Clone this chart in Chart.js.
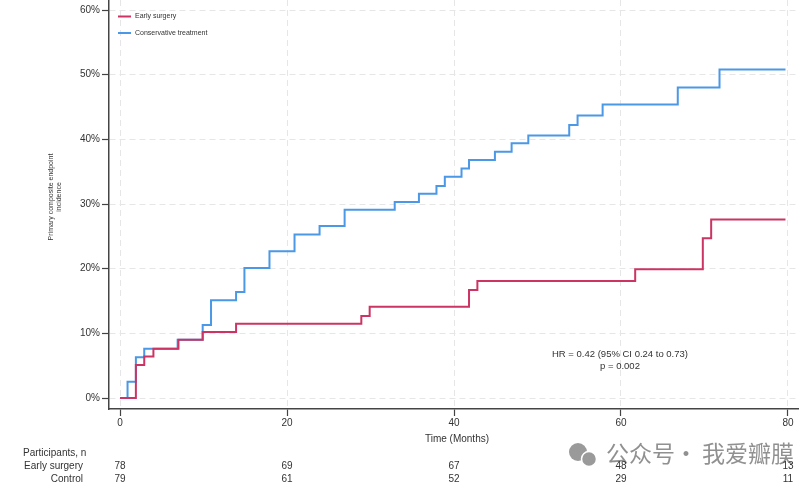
<!DOCTYPE html>
<html>
<head>
<meta charset="utf-8">
<script src="https://cdn.jsdelivr.net/npm/chart.js@4/dist/chart.umd.min.js"></script>
<style>
  html, body { margin: 0; padding: 0; background: #fff; }
  #wrap { width: 812px; height: 487px; position: relative; }
</style>
</head>
<body>
<div id="wrap"><canvas id="chart"></canvas></div>
<script>
// Kaplan-Meier cumulative incidence (%)
var earlyTimes = [0, 1.9, 2.9, 4.0, 7.0, 9.9, 13.9, 28.9, 29.9, 41.8, 42.8, 61.7, 69.8, 70.8, 79.7];
var earlyRisk  = [0, 5.1, 6.4, 7.6, 9.0, 10.2, 11.5, 12.7, 14.1, 16.7, 18.1, 19.9, 24.7, 27.6, 27.6];

var consTimes = [0, 0.9, 1.9, 2.9, 6.9, 9.9, 10.9, 13.9, 14.9, 17.9, 20.9, 23.9, 26.9, 32.9, 35.8,
                 37.9, 38.9, 40.9, 41.8, 44.9, 46.9, 48.9, 53.8, 54.8, 57.8, 66.8, 71.8, 79.7];
var consRisk  = [0, 2.5, 6.3, 7.6, 9.0, 11.3, 15.1, 16.4, 20.1, 22.7, 25.3, 26.6, 29.1, 30.3, 31.6,
                 32.8, 34.2, 35.5, 36.8, 38.1, 39.4, 40.6, 42.2, 43.7, 45.4, 48.0, 50.8, 50.8];

var xTicks = [0, 20, 40, 60, 80];
var yTicks = [0, 10, 20, 30, 40, 50, 60];

// numbers at risk
var riskRowLabels = ['Early surgery', 'Control'];
var riskEarly = [78, 69, 67, 48, 13];
var riskControl = [79, 61, 52, 29, 11];

var hrText = ['HR = 0.42 (95% CI 0.24 to 0.73)', 'p = 0.002'];

var RED = '#cc3463';
var BLUE = '#4a98e6';
var FONT = '"Liberation Sans", Arial, sans-serif';

function toPoints(xs, ys) {
  var pts = [];
  for (var i = 0; i < xs.length; i++) pts.push({ x: xs[i], y: ys[i] });
  return pts;
}

var extras = {
  id: 'extras',
  afterDraw: function (chart) {
    var ctx = chart.ctx;
    var xs = chart.scales.x;
    ctx.save();

    // legend inside the plot
    var items = chart.data.datasets;
    ctx.font = '7px ' + FONT;
    ctx.textBaseline = 'middle';
    ctx.textAlign = 'left';
    for (var i = 0; i < items.length; i++) {
      var ly = 16.5 + i * 16.5;
      ctx.strokeStyle = items[i].borderColor;
      ctx.lineWidth = 2;
      ctx.beginPath();
      ctx.moveTo(118, ly);
      ctx.lineTo(131, ly);
      ctx.stroke();
      ctx.fillStyle = '#333';
      ctx.fillText(items[i].label, 135, ly);
    }

    // y axis title
    ctx.save();
    ctx.translate(51, 197);
    ctx.rotate(-Math.PI / 2);
    ctx.font = '7px ' + FONT;
    ctx.fillStyle = '#333';
    ctx.textAlign = 'center';
    ctx.fillText('Primary composite endpoint', 0, 0);
    ctx.fillText('incidence', 0, 8.5);
    ctx.restore();

    // x axis title
    ctx.font = '10px ' + FONT;
    ctx.fillStyle = '#333';
    ctx.textAlign = 'center';
    ctx.fillText('Time (Months)', (xs.getPixelForValue(0) + xs.getPixelForValue(80)) / 2 + 3, 439);

    // HR annotation
    ctx.font = '9.5px ' + FONT;
    ctx.fillText(hrText[0], 620, 354);
    ctx.fillText(hrText[1], 620, 366);

    // watermark
    ctx.fillStyle = '#9a9a9a';
    ctx.beginPath(); ctx.arc(578, 452, 9, 0, Math.PI * 2); ctx.fill();
    ctx.strokeStyle = '#fff'; ctx.lineWidth = 1.5;
    ctx.beginPath(); ctx.arc(589, 459, 7.5, 0, Math.PI * 2); ctx.fill(); ctx.stroke();
    ctx.font = '23px "Noto Sans CJK SC", sans-serif';
    ctx.fillStyle = 'rgba(125,125,125,0.85)';
    ctx.textAlign = 'left';
    ctx.fillText('公众号', 606, 453);
    ctx.textAlign = 'center';
    ctx.fillText('·', 686, 453);
    ctx.textAlign = 'left';
    ctx.fillText('我爱瓣膜', 702, 453);

    // numbers at risk table
    ctx.fillStyle = '#333';
    ctx.font = '10px ' + FONT;
    ctx.textAlign = 'left';
    ctx.fillText('Participants, n', 23, 453);
    ctx.textAlign = 'right';
    ctx.fillText(riskRowLabels[0], 83, 466);
    ctx.fillText(riskRowLabels[1], 83, 479);
    ctx.textAlign = 'center';
    for (var k = 0; k < xTicks.length; k++) {
      var px = xs.getPixelForValue(xTicks[k]);
      ctx.fillText(String(riskEarly[k]), px, 466);
      ctx.fillText(String(riskControl[k]), px, 479);
    }
    ctx.restore();
  }
};

new Chart(document.getElementById('chart'), {
  type: 'line',
  data: {
    datasets: [
      { label: 'Early surgery', data: toPoints(earlyTimes, earlyRisk), borderColor: RED,
        borderWidth: 2, stepped: true, pointRadius: 0, fill: false },
      { label: 'Conservative treatment', data: toPoints(consTimes, consRisk), borderColor: BLUE,
        borderWidth: 2, stepped: true, pointRadius: 0, fill: false }
    ]
  },
  options: {
    responsive: true,
    maintainAspectRatio: false,
    animation: false,
    devicePixelRatio: 1,
    layout: { padding: { left: 0, top: 0, right: 14, bottom: 0 } },
    plugins: { legend: { display: false }, tooltip: { enabled: false } },
    scales: {
      x: {
        type: 'linear',
        min: -1.32,
        max: 81.2,
        afterBuildTicks: function (s) { s.ticks = xTicks.map(function (v) { return { value: v }; }); },
        afterFit: function (s) { s.height = 78; s.paddingLeft = 0; s.paddingRight = 0; },
        grid: { color: '#e6e6e6', lineWidth: 1, tickLength: 7, tickColor: '#444', tickWidth: 1.2 },
        border: { color: '#444', width: 1.5, dash: [6, 4] },
        ticks: { color: '#333', font: { size: 10, family: FONT }, padding: 1, maxRotation: 0 }
      },
      y: {
        min: -1.7,
        max: 61.55,
        afterBuildTicks: function (s) { s.ticks = yTicks.map(function (v) { return { value: v }; }); },
        afterFit: function (s) { s.width = 109; s.paddingTop = 0; s.paddingBottom = 0; },
        grid: { color: '#e6e6e6', lineWidth: 1, tickLength: 7, tickColor: '#444', tickWidth: 1.2 },
        border: { color: '#444', width: 1.5, dash: [6, 4] },
        ticks: { color: '#333', font: { size: 10, family: FONT }, padding: 2,
                 callback: function (v) { return v + '%'; } }
      }
    }
  },
  plugins: [extras]
});
</script>
</body>
</html>
